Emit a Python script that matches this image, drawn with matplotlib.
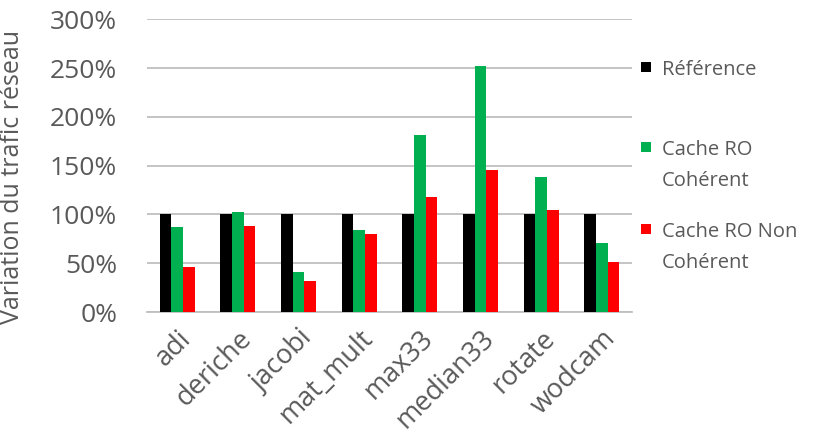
import matplotlib
matplotlib.use("Agg")
import matplotlib.pyplot as plt
import numpy as np
from matplotlib.patches import Rectangle

categories = ["adi", "deriche", "jacobi", "mat_mult", "max33", "median33", "rotate", "wodcam"]
reference = [1.00, 1.00, 1.00, 1.00, 1.00, 1.00, 1.00, 1.00]
cache_ro_coherent = [0.87, 1.02, 0.41, 0.84, 1.81, 2.52, 1.38, 0.71]
cache_ro_non_coherent = [0.46, 0.88, 0.32, 0.80, 1.18, 1.46, 1.05, 0.51]
series_names = ["Référence", "Cache RO\nCohérent", "Cache RO Non\nCohérent"]
series_colors = ["#000000", "#00B050", "#FF0000"]
yticks = [0, 0.5, 1.0, 1.5, 2.0, 2.5, 3.0]
ytick_labels = ["0%", "50%", "100%", "150%", "200%", "250%", "300%"]

plt.rcParams['font.family'] = ['Open Sans', 'DejaVu Sans']
txt = "#595959"
grid = "#BFBFBF"

fig = plt.figure(figsize=(8.19, 4.44), dpi=100)
ax = fig.add_axes([147/819, 1 - 312/444, (632-147)/819, (312-19.3)/444])

x = np.arange(len(categories))
w = 0.192
for i, (vals, col) in enumerate(zip([reference, cache_ro_coherent, cache_ro_non_coherent], series_colors)):
    ax.bar(x + (i - 1) * w, vals, width=w, color=col, zorder=3)

ax.set_xlim(-0.5, len(categories) - 0.5)
ax.set_ylim(0, 3.0)
ax.set_yticks(yticks)
ax.set_yticklabels(ytick_labels, color=txt, fontsize=19)
ax.set_xticks(x)
ax.set_xticklabels(categories, rotation=45, ha='right', rotation_mode='anchor', color=txt, fontsize=19.5)
ax.tick_params(axis='both', length=0)
ax.tick_params(axis='y', pad=21.5)
ax.tick_params(axis='x', pad=9)
ax.yaxis.grid(True, color=grid, linewidth=1.3, zorder=0)
for s in ['top', 'right', 'left']:
    ax.spines[s].set_visible(False)
ax.spines['bottom'].set_color(grid)
ax.spines['bottom'].set_linewidth(1.3)
ax.set_ylabel("Variation du trafic réseau", color=txt, fontsize=18)
ax.yaxis.set_label_coords(-0.252, 0.46)

# legend (drawn manually to match first-line alignment)
marker_y = [67, 147, 229]
for name, col, my in zip(series_names, series_colors, marker_y):
    fig.patches.append(Rectangle((641/819, 1 - (my + 5)/444), 10/819, 10/444,
                                 transform=fig.transFigure, facecolor=col, edgecolor='none'))
    fig.text(662/819, 1 - (my - 7)/444, name, color=txt, fontsize=14.5, va='top', ha='left',
             linespacing=1.72)

fig.savefig("out.png", dpi=100)
